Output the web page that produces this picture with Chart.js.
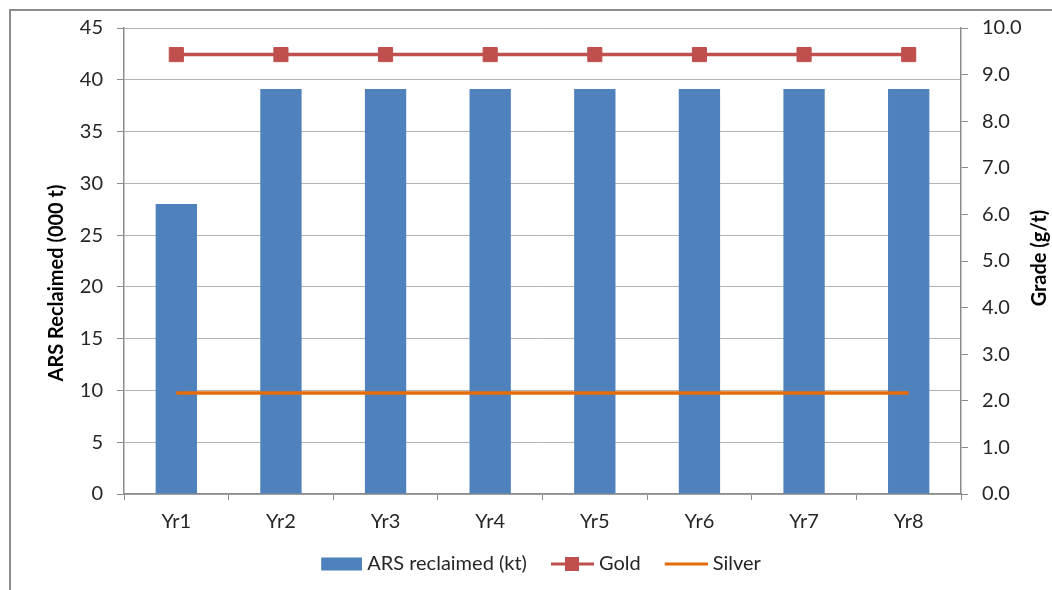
<!DOCTYPE html>
<html>
<head>
<meta charset="utf-8">
<script src="https://cdn.jsdelivr.net/npm/chart.js@4.4.1/dist/chart.umd.min.js"></script>
<style>
  html, body { margin: 0; padding: 0; background: #fff; overflow: hidden; }
  #frame { position: absolute; left: 9px; top: 9px; width: 1200px; height: 800px; border: 2px solid #8c8c8c; }
  #wrap { position: absolute; left: 0; top: 0; width: 1052px; height: 590px; }
</style>
</head>
<body>
<div id="frame"></div>
<div id="wrap"><canvas id="c" width="1052" height="590"></canvas></div>
<script>
// Reclamation schedule and head grades
const years = ['Yr1', 'Yr2', 'Yr3', 'Yr4', 'Yr5', 'Yr6', 'Yr7', 'Yr8'];
const arsReclaimed = [28, 39.1, 39.1, 39.1, 39.1, 39.1, 39.1, 39.1];
const goldGrade = [9.43, 9.43, 9.43, 9.43, 9.43, 9.43, 9.43, 9.43];
const silverGrade = [2.17, 2.17, 2.17, 2.17, 2.17, 2.17, 2.17, 2.17];
const seriesNames = ['ARS reclaimed (kt)', 'Gold', 'Silver'];
const leftTitle = 'ARS Reclaimed (000 t)';
const rightTitle = 'Grade (g/t)';

const BLUE = '#4f81bd', RED = '#c0504d', ORANGE = '#e46c0a';
const TEXT = '#262626', GRID = '#b3b3b3', AXIS = '#8c8c8c';
const FONT = 'Lato';
const SIZE = 20;

// legend icons, drawn into small canvases
function icon(kind) {
  const cv = document.createElement('canvas');
  cv.width = 48; cv.height = 16;
  const g = cv.getContext('2d');
  if (kind === 'bar') {
    g.fillStyle = BLUE;
    g.fillRect(7, 1.5, 41, 13);
  } else {
    g.strokeStyle = kind === 'gold' ? RED : ORANGE;
    g.lineWidth = 3;
    g.beginPath(); g.moveTo(5, 8); g.lineTo(48, 8); g.stroke();
    if (kind === 'gold') {
      g.fillStyle = RED;
      g.fillRect(19, 1, 14, 14);
    }
  }
  return cv;
}
const legendIcons = [icon('bar'), icon('gold'), icon('silver')];

// axis titles, both reading bottom to top
const axisTitles = {
  id: 'axisTitles',
  afterDraw(chart) {
    const ctx = chart.ctx;
    const put = (text, x, y) => {
      ctx.save();
      ctx.font = 'bold ' + SIZE + 'px ' + FONT;
      ctx.fillStyle = '#000';
      ctx.textAlign = 'center';
      ctx.textBaseline = 'middle';
      ctx.translate(x, y);
      ctx.rotate(-Math.PI / 2);
      ctx.fillText(text, 0, 0);
      ctx.restore();
    };
    put(leftTitle, 57, 283);
    put(rightTitle, 1040, 258);
  }
};

new Chart(document.getElementById('c'), {
  data: {
    labels: years,
    datasets: [
      { type: 'bar', label: seriesNames[0], data: arsReclaimed, backgroundColor: BLUE,
        yAxisID: 'y', order: 2, barPercentage: 0.395, categoryPercentage: 1 },
      { type: 'line', label: seriesNames[1], data: goldGrade, borderColor: RED, backgroundColor: RED,
        borderWidth: 3.5, pointStyle: 'rect', pointRadius: 10, pointBorderWidth: 1,
        pointHoverRadius: 10, yAxisID: 'y1', order: 1 },
      { type: 'line', label: seriesNames[2], data: silverGrade, borderColor: ORANGE, backgroundColor: ORANGE,
        borderWidth: 3.5, pointRadius: 0, pointHoverRadius: 0, yAxisID: 'y1', order: 1 }
    ]
  },
  options: {
    responsive: false,
    animation: false,
    devicePixelRatio: 1,
    layout: { padding: { left: 28, right: 0, top: 28, bottom: 6 } },
    plugins: {
      tooltip: { enabled: false },
      legend: {
        position: 'bottom',
        labels: {
          usePointStyle: true,
          pointStyleWidth: 38,
          padding: 24,
          color: TEXT,
          font: { family: FONT, size: SIZE },
          generateLabels(chart) {
            const items = Chart.defaults.plugins.legend.labels.generateLabels(chart);
            items.sort((a, b) => a.datasetIndex - b.datasetIndex);
            items.forEach(it => { it.pointStyle = legendIcons[it.datasetIndex]; });
            return items;
          }
        }
      }
    },
    scales: {
      x: {
        offset: true,
        grid: { offset: true, drawOnChartArea: false, drawTicks: true, tickLength: 6, color: AXIS },
        border: { color: AXIS, width: 1.5 },
        ticks: { color: TEXT, font: { family: FONT, size: SIZE }, padding: 10 },
        afterFit(s) { s.height = 36; }
      },
      y: {
        position: 'left',
        min: 0, max: 45,
        ticks: { stepSize: 5, color: TEXT, font: { family: FONT, size: SIZE }, padding: 14 },
        grid: { color: GRID, tickColor: AXIS, tickLength: 7 },
        border: { color: AXIS, width: 1.5 },
        afterFit(s) { s.width = 96; }
      },
      y1: {
        position: 'right',
        min: 0, max: 10,
        ticks: { stepSize: 1, color: TEXT, font: { family: FONT, size: SIZE }, padding: 14,
                 callback: v => Number(v).toFixed(1) },
        grid: { drawOnChartArea: false, tickColor: AXIS, tickLength: 7 },
        border: { color: AXIS, width: 1.5 },
        afterFit(s) { s.width = 91; }
      }
    }
  },
  plugins: [axisTitles]
});
</script>
</body>
</html>
